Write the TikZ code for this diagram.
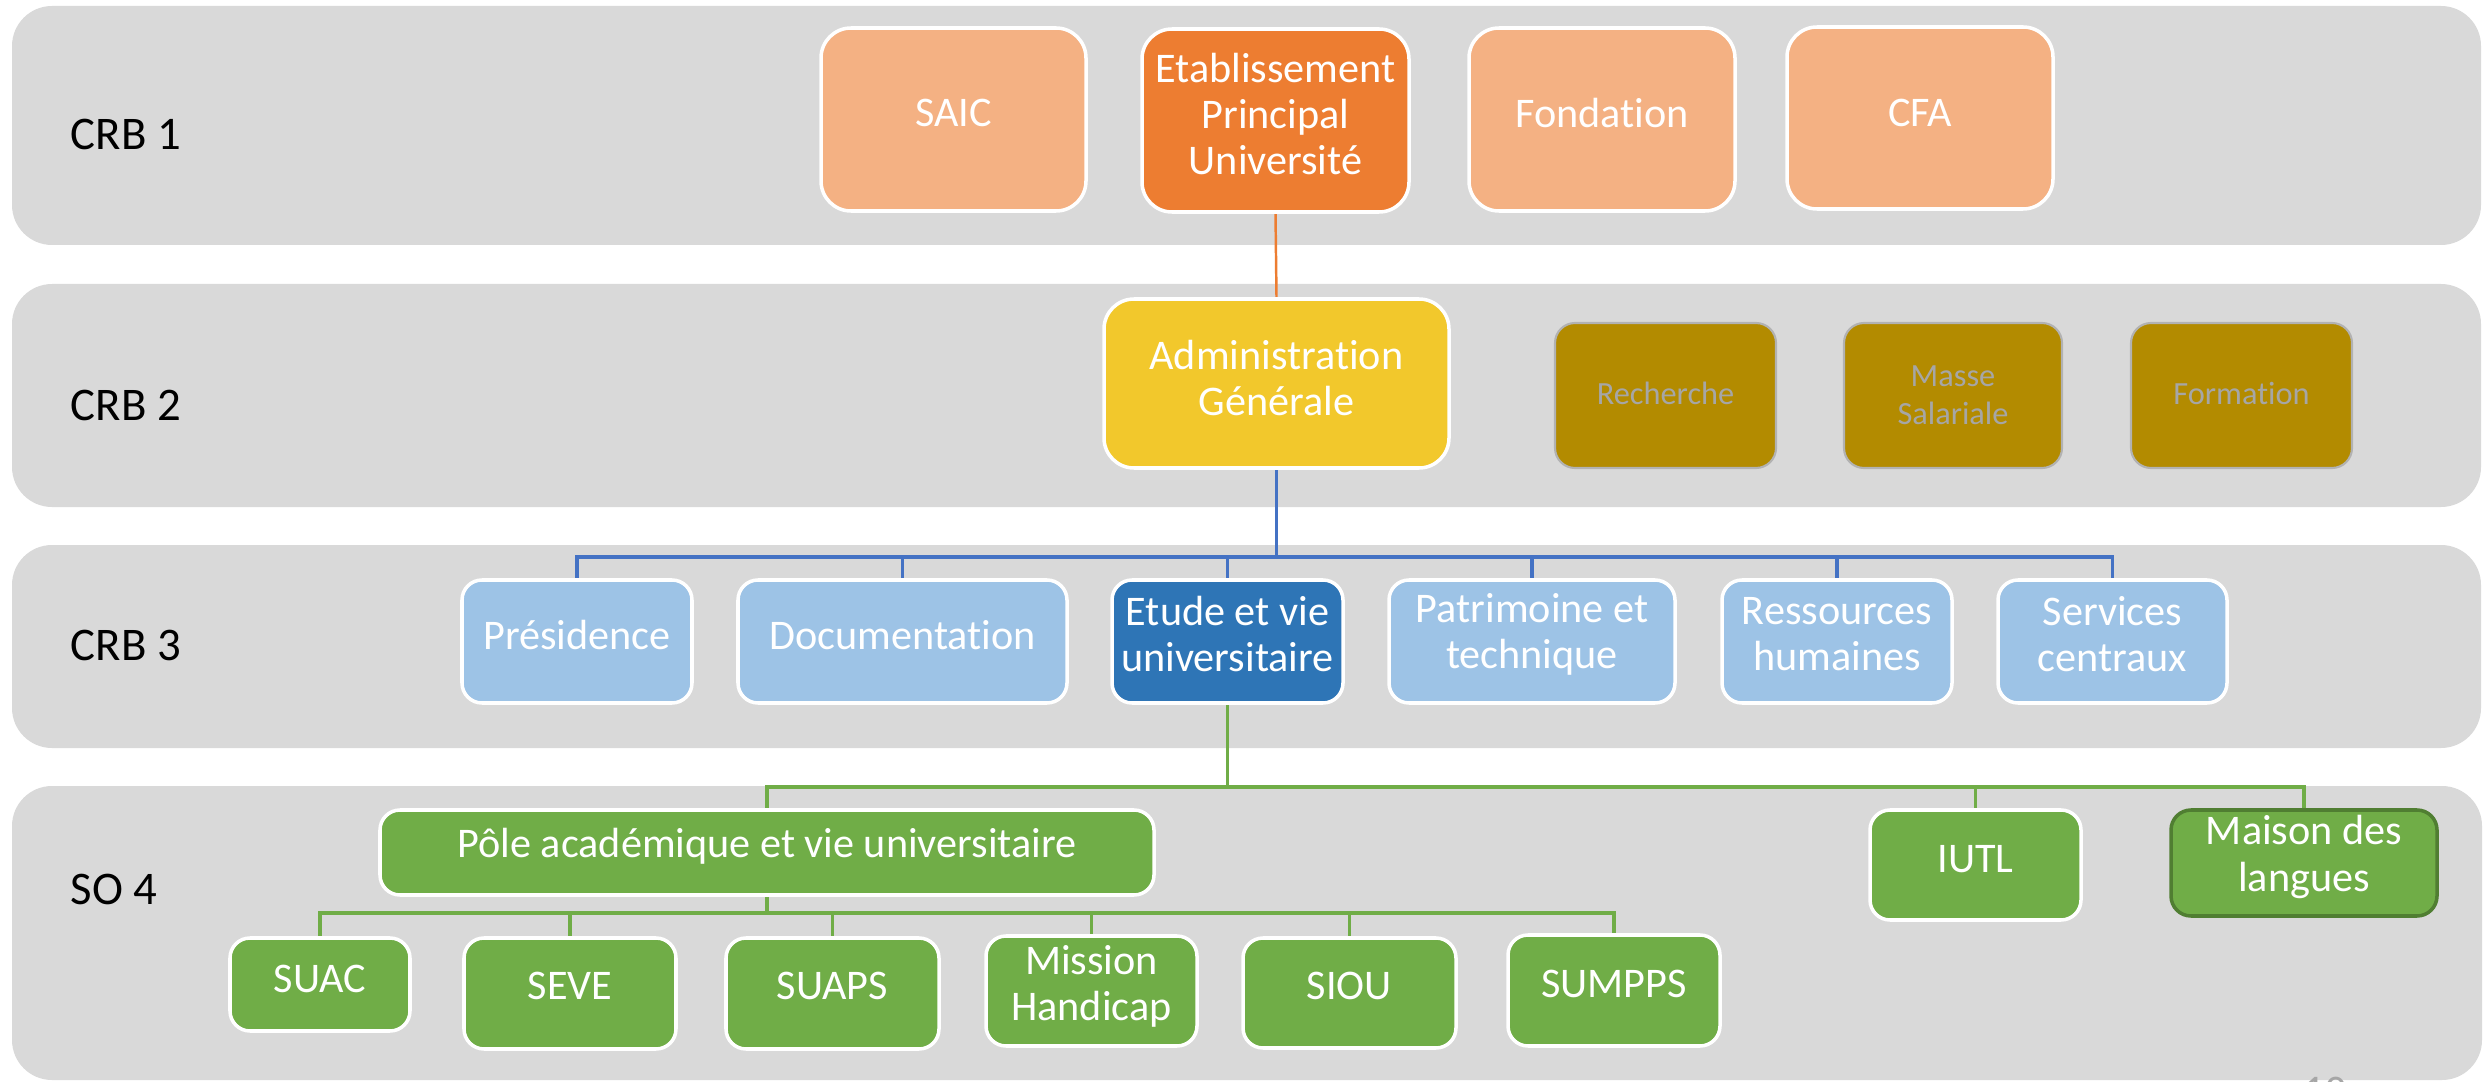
\documentclass[tikz,border=0pt]{standalone}
\usepackage{fontspec}
\setmainfont{Carlito}[Ligatures=NoCommon]
\usetikzlibrary{fit}
\pgfdeclarelayer{bg}
\pgfsetlayers{bg,main}
\definecolor{band}{HTML}{D9D9D9}
\definecolor{lorange}{HTML}{F4B183}
\definecolor{orange1}{HTML}{ED7D31}
\definecolor{gold1}{HTML}{F2C82C}
\definecolor{dgold}{HTML}{B38B00}
\definecolor{lblue}{HTML}{9DC3E6}
\definecolor{blue1}{HTML}{2E75B6}
\definecolor{lineblue}{HTML}{4472C4}
\definecolor{green1}{HTML}{70AD47}
\definecolor{dgreen}{HTML}{507E32}
\definecolor{gtext}{HTML}{A6A6A6}
\tikzset{
  bandbox/.style={fill=band, rounded corners=0.4cm},
  lbl/.style={font=\fontsize{13.3}{15}\selectfont, text=black, inner sep=0pt, anchor=west},
  wbox/.style={draw=white, line width=1pt, rounded corners=0.2cm},
  bigbox/.style={wbox, rounded corners=0.3cm},
  wtxt/.style={text=white, font=\fontsize{12}{13.1}\selectfont, align=center, inner sep=0pt},
  gtxt/.style={text=gtext, font=\fontsize{9.2}{10.8}\selectfont, align=center, inner sep=0pt},
  ntxt/.style={text=gray!70, font=\fontsize{12}{13}\selectfont, inner sep=0pt},
  goldbox/.style={fill=dgold, draw=gray!60, line width=0.6pt, rounded corners=0.2cm},
  oline/.style={draw=orange1, line width=0.7pt},
  bline/.style={draw=lineblue, line width=0.9pt},
  gline/.style={draw=green1, line width=0.9pt},
}
% #1 box style, #2 text style, #3 name, #4 x1, #5 y1, #6 x2, #7 y2, #8 text y, #9 text
\newcommand\ubox[9]{%
  \node[#1, fit={(#4,#5) (#6,#7)}, inner sep=0pt] (#3) {};
  \node[#2] (#3t) at (#3 |- 0,#8) {#9};}
\begin{document}
\begin{tikzpicture}[x=0.01cm,y=-0.01cm]
\useasboundingbox (0,0) rectangle (2484,1082);
\begin{pgfonlayer}{bg}
  \fill[bandbox] (12,6) rectangle (2481,245);
  \fill[bandbox] (12,284) rectangle (2481,507);
  \fill[bandbox] (12,545) rectangle (2481,748);
  \fill[bandbox] (12,786) rectangle (2482,1080);
\end{pgfonlayer}
% band labels
\node[lbl] (l1) at (70,134) {CRB 1};
\node[lbl] (l2) at (70,405) {CRB 2};
\node[lbl] (l3) at (70,645) {CRB 3};
\node[lbl] (l4) at (70,889) {SO 4};
% CRB 1
\ubox{bigbox, fill=lorange}{wtxt}{saic}{821}{28}{1086}{211}{113}{SAIC}
\ubox{bigbox, fill=orange1}{wtxt}{etab}{1142}{29}{1409}{212}{114}{Etablissement\\Principal\\Université}
\ubox{bigbox, fill=lorange}{wtxt}{fond}{1469}{28}{1735}{211}{113}{Fondation}
\ubox{bigbox, fill=lorange}{wtxt}{cfa}{1787}{27}{2053}{209}{113}{CFA}
% CRB 2
\ubox{bigbox, fill=gold1}{wtxt}{admin}{1104}{299}{1449}{468}{378}{Administration\\Générale}
\ubox{goldbox}{gtxt}{rech}{1555}{323}{1776}{468}{393}{Recherche}
\ubox{goldbox}{gtxt}{masse}{1844}{323}{2062}{468}{395}{Masse\\Salariale}
\ubox{goldbox}{gtxt}{form}{2131}{323}{2352}{468}{393}{Formation}
% CRB 3
\ubox{wbox, fill=lblue}{wtxt}{pres}{462}{580}{692}{703}{635}{Présidence}
\ubox{wbox, fill=lblue}{wtxt}{doc}{738}{580}{1067}{703}{635}{Documentation}
\ubox{wbox, fill=blue1}{wtxt}{etude}{1112}{580}{1343}{703}{634}{Etude et vie\\universitaire}
\ubox{wbox, fill=lblue}{wtxt}{patr}{1389}{580}{1675}{703}{634}{Patrimoine et\\technique}
\ubox{wbox, fill=lblue}{wtxt}{rh}{1722}{580}{1952}{703}{634}{Ressources\\humaines}
\ubox{wbox, fill=lblue}{wtxt}{serv}{1998}{580}{2227}{703}{634}{Services\\centraux}
% SO 4
\ubox{wbox, fill=green1}{wtxt}{pole}{380}{810}{1154}{895}{846}{Pôle académique et vie universitaire}
\ubox{wbox, fill=green1}{wtxt}{iutl}{1870}{810}{2081}{920}{859}{IUTL}
\ubox{wbox, fill=green1, draw=dgreen}{wtxt}{maison}{2171}{810}{2437}{916}{857}{Maison des\\langues}
\ubox{wbox, fill=green1}{wtxt}{suac}{230}{938}{410}{1031}{979}{SUAC}
\ubox{wbox, fill=green1}{wtxt}{seve}{464}{938}{676}{1049}{986}{SEVE}
\ubox{wbox, fill=green1}{wtxt}{suaps}{726}{938}{939}{1049}{986}{SUAPS}
\ubox{wbox, fill=green1}{wtxt}{mission}{986}{936}{1197}{1046}{986}{Mission\\Handicap}
\ubox{wbox, fill=green1}{wtxt}{siou}{1243}{938}{1456}{1048}{986}{SIOU}
\ubox{wbox, fill=green1}{wtxt}{sumpps}{1508}{935}{1720}{1046}{984}{SUMPPS}
% page number (cut by the page edge, as in the reference)
\node[ntxt, anchor=north west] (pnum) at (2303,1076) {10};
% connectors
\begin{pgfonlayer}{bg}
  \draw[oline] (etab.south) -- (admin.north);
  \coordinate (bbar) at (0,557);
  \foreach \c in {pres,doc,etude,patr,rh,serv}
    \draw[bline] (admin.south) |- (bbar -| \c.north) -- (\c.north);
  \coordinate (gbar) at (0,787);
  \foreach \c in {pole,iutl,maison}
    \draw[gline] (etude.south) |- (gbar -| \c.north) -- (\c.north);
  \coordinate (gbar2) at (0,913);
  \foreach \c in {suac,seve,suaps,mission,siou,sumpps}
    \draw[gline] (pole.south) |- (gbar2 -| \c.north) -- (\c.north);
\end{pgfonlayer}
\end{tikzpicture}
\end{document}
